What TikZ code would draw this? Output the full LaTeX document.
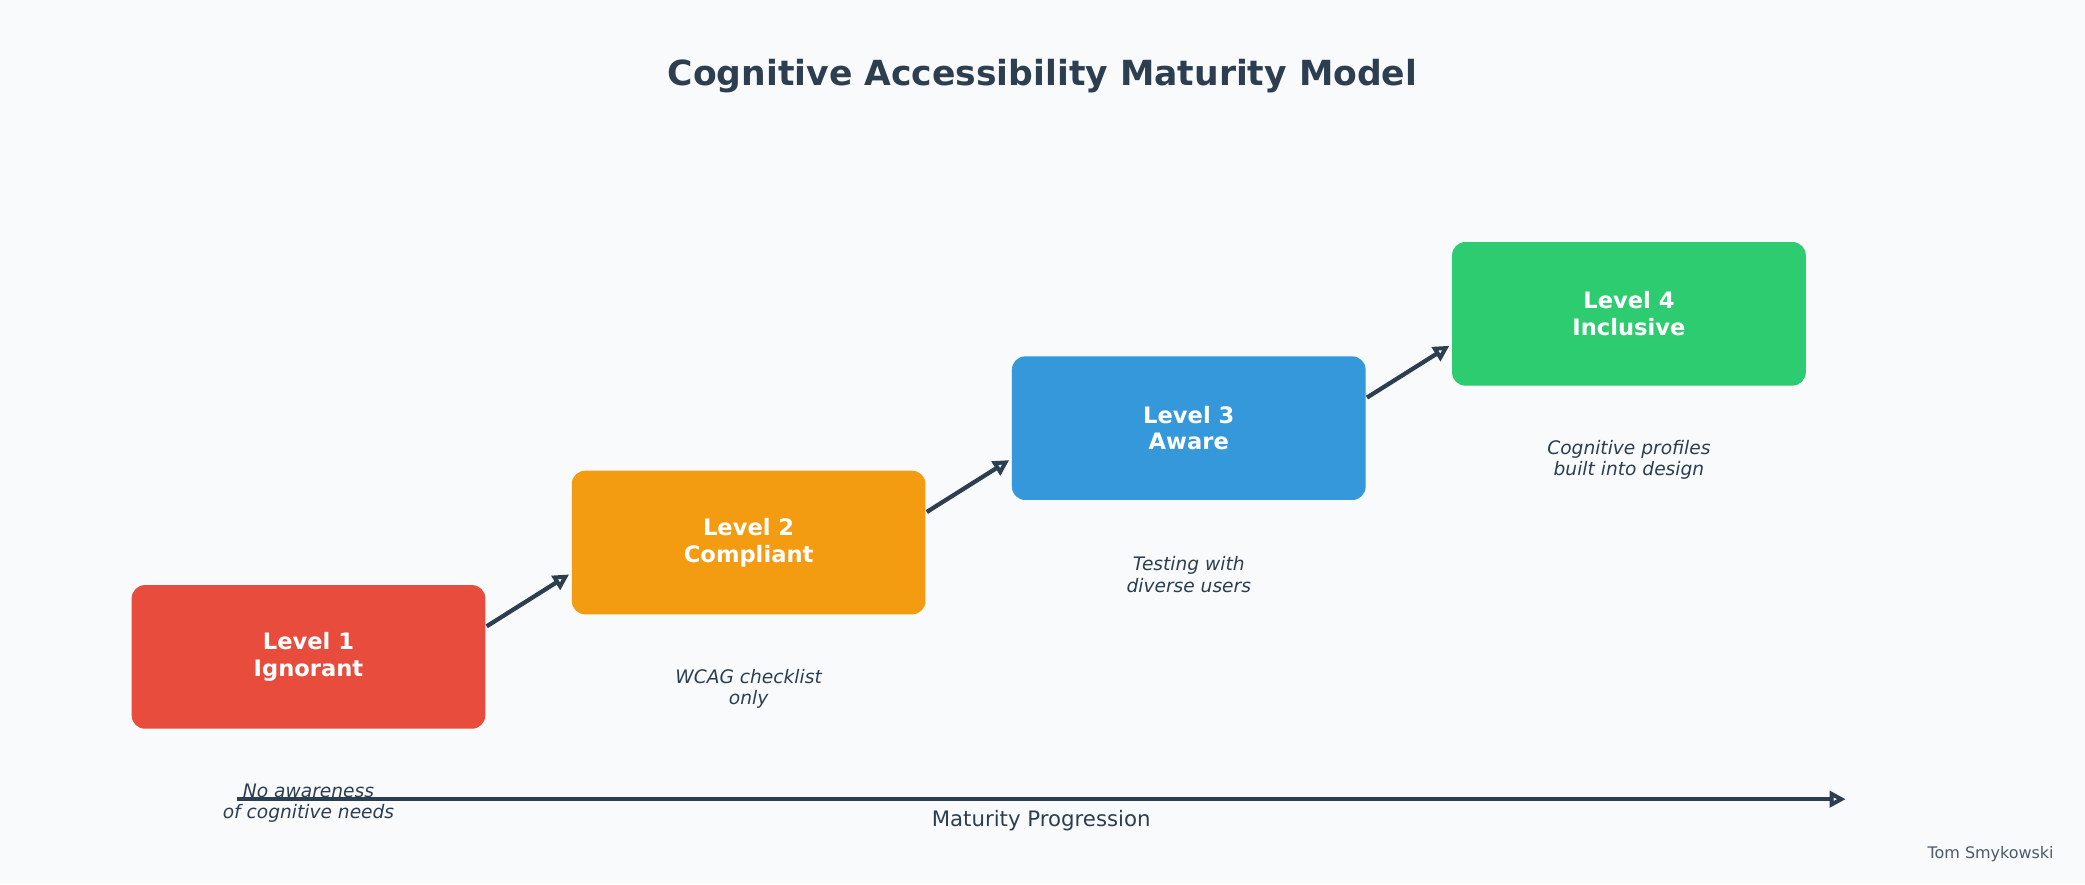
\documentclass[tikz,border=0pt]{standalone}
\usepackage{fontspec}
\setmainfont{DejaVu Sans}
\usetikzlibrary{arrows.meta}
\definecolor{bg}{HTML}{F9FAFB}
\definecolor{ink}{HTML}{2C3E50}
\definecolor{cr}{HTML}{E74C3C}
\definecolor{co}{HTML}{F39C12}
\definecolor{cb}{HTML}{3498DB}
\definecolor{cg}{HTML}{2ECC71}
\begin{document}
\begin{tikzpicture}[x=0.5pt,y=-0.5pt,
  box/.style={rounded corners=5pt,minimum width=133pt,minimum height=54pt,inner sep=0pt,text=white,font=\bfseries\fontsize{8.5}{10}\selectfont,align=center},
  desc/.style={text=ink,font=\itshape\fontsize{7}{8}\selectfont,align=center},
  arr/.style={draw=ink,line width=1.6pt,-{Stealth[length=6pt,width=6pt,inset=0pt,open]}}]
\fill[bg] (0,0) rectangle (1568,665);
\useasboundingbox (0,0) rectangle (1568,665);
\node[text=ink,font=\bfseries\fontsize{13}{15}\selectfont] (title) at (784,57) {Cognitive Accessibility Maturity Model};
\node[box,fill=cr] (l1) at (232,494) {Level 1\\Ignorant};
\node[box,fill=co] (l2) at (563,408) {Level 2\\Compliant};
\node[box,fill=cb] (l3) at (894,322) {Level 3\\Aware};
\node[box,fill=cg] (l4) at (1225,236) {Level 4\\Inclusive};
\node[desc] (d1) at (232,604) {No awareness\\of cognitive needs};
\node[desc] (d2) at (563,518) {WCAG checklist\\only};
\node[desc] (d3) at (894,432) {Testing with\\diverse users};
\node[desc] (d4) at (1225,346) {Cognitive profiles\\built into design};
\coordinate (a1) at (366,471); \coordinate (b1) at (428,432);
\coordinate (a2) at (697,385); \coordinate (b2) at (759,346);
\coordinate (a3) at (1028,299); \coordinate (b3) at (1090,260);
\draw[arr] (a1) -- (b1);
\draw[arr] (a2) -- (b2);
\draw[arr] (a3) -- (b3);
\coordinate (s) at (178,601); \coordinate (e) at (1388,601);
\draw[arr] (s) -- (e);
\node[text=ink,font=\fontsize{8}{9}\selectfont] (ax) at (783,617) {Maturity Progression};
\node[text=ink!85,font=\fontsize{6}{7}\selectfont] (au) at (1497,642) {Tom Smykowski};
\end{tikzpicture}
\end{document}
